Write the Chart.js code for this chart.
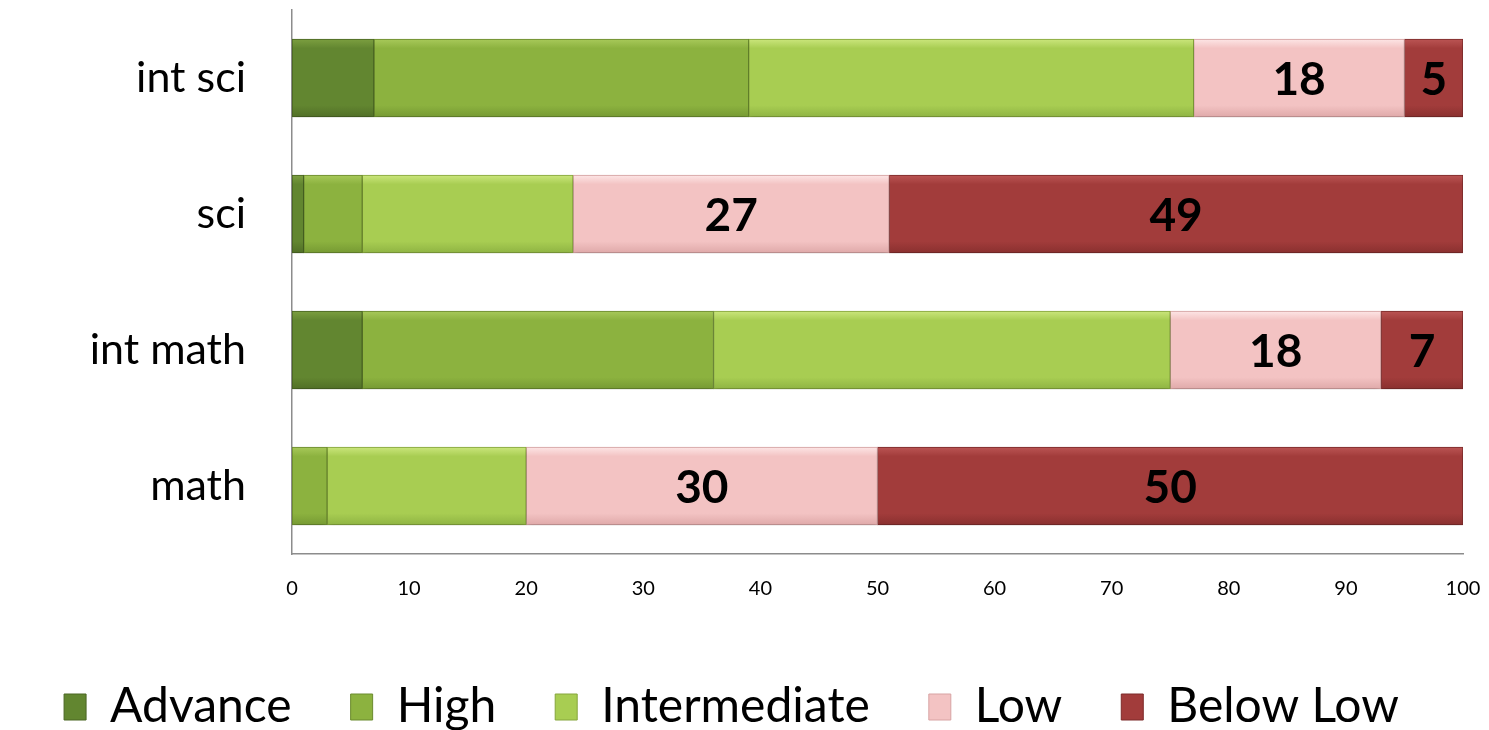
<!DOCTYPE html>
<html>
<head>
<meta charset="utf-8">
<script src="https://cdn.jsdelivr.net/npm/chart.js@4"></script>
<style>
  html, body { margin: 0; padding: 0; background: #fff; }
  #wrap { width: 1489px; height: 730px; }
</style>
</head>
<body>
<div id="wrap"><canvas id="levelsChart"></canvas></div>
<script>
// chart data
const subjects = ['int sci', 'sci', 'int math', 'math'];
const advance = [7, 1, 6, 0];
const high = [32, 5, 30, 3];
const intermediate = [38, 18, 39, 17];
const low = [18, 27, 18, 30];
const belowLow = [5, 49, 7, 50];
const xTicks = [0, 10, 20, 30, 40, 50, 60, 70, 80, 90, 100];

const FONT = 'Lato, "Open Sans", sans-serif';

// vertical gradient per bar, light on top, dark at bottom
function shade(base, light, dark) {
    return function(context) {
        const chart = context.chart;
        const y = chart.scales && chart.scales.y;
        if (!chart.chartArea || !y || context.type !== 'data') return base;
        const c = y.getPixelForValue(context.dataIndex);
        const g = chart.ctx.createLinearGradient(0, c - 39, 0, c + 39);
        g.addColorStop(0, light);
        g.addColorStop(0.12, base);
        g.addColorStop(0.85, base);
        g.addColorStop(1, dark);
        return g;
    };
}

const series = [
    { label: 'Advance', data: advance, base: '#628630', light: '#7c9f40', dark: '#516f27', border: '#4a6623' },
    { label: 'High', data: high, base: '#8cb23f', light: '#a8c95a', dark: '#769a33', border: '#6b8b2e' },
    { label: 'Intermediate', data: intermediate, base: '#a8cd52', light: '#cbe67c', dark: '#8fb443', border: '#86a63c' },
    { label: 'Low', data: low, base: '#f3c3c3', light: '#fde6e6', dark: '#dfa9a9', border: '#d8a3a3' },
    { label: 'Below Low', data: belowLow, base: '#a23c3b', light: '#bb5554', dark: '#8a302f', border: '#7d2a2a' }
];

// numbers inside the Low / Below Low bars
const barLabels = {
    id: 'barLabels',
    afterDatasetsDraw(chart) {
        const ctx = chart.ctx;
        ctx.save();
        ctx.font = 'bold 46px ' + FONT;
        ctx.fillStyle = '#000';
        ctx.textAlign = 'center';
        ctx.textBaseline = 'middle';
        [3, 4].forEach(function(di) {
            const meta = chart.getDatasetMeta(di);
            meta.data.forEach(function(bar, i) {
                const v = chart.data.datasets[di].data[i];
                if (!v) return;
                ctx.fillText(String(v), (bar.x + bar.base) / 2, bar.y + 2);
            });
        });
        ctx.restore();
    }
};

// soft shadow under the bars
const barShadow = {
    id: 'barShadow',
    beforeDatasetsDraw(chart) {
        chart.ctx.save();
        chart.ctx.shadowColor = 'rgba(0,0,0,0.25)';
        chart.ctx.shadowBlur = 6;
        chart.ctx.shadowOffsetY = 3;
    },
    afterDatasetsDraw(chart) {
        chart.ctx.restore();
    }
};

new Chart(document.getElementById('levelsChart').getContext('2d'), {
    type: 'bar',
    data: {
        labels: subjects,
        datasets: series.map(function(s) {
            return {
                label: s.label,
                data: s.data,
                backgroundColor: shade(s.base, s.light, s.dark),
                borderColor: s.border,
                borderWidth: 1,
                borderSkipped: false,
                barThickness: 78,
                baseColor: s.base
            };
        })
    },
    options: {
        indexAxis: 'y',
        responsive: true,
        maintainAspectRatio: false,
        animation: false,
        layout: { padding: { top: 10, right: 26, left: 0, bottom: -11 } },
        scales: {
            x: {
                stacked: true,
                min: 0,
                max: 100,
                afterBuildTicks(scale) {
                    scale.ticks = xTicks.map(function(v) { return { value: v }; });
                },
                grid: { display: false, drawTicks: false },
                border: { display: true, color: '#8c8c8c', width: 1.5 },
                ticks: {
                    color: '#000',
                    font: { family: FONT, size: 20 },
                    padding: 23,
                    maxRotation: 0
                },
                afterFit(scale) {
                    scale.height = 70;
                    scale.paddingLeft = 0;
                    scale.paddingRight = 0;
                }
            },
            y: {
                stacked: true,
                grid: { display: false, drawTicks: false },
                border: { display: true, color: '#8c8c8c', width: 1.5 },
                ticks: {
                    color: '#000',
                    font: { family: FONT, size: 43 },
                    padding: 46
                },
                afterFit(scale) {
                    scale.width = 292;
                    scale.paddingTop = 0;
                    scale.paddingBottom = 0;
                }
            }
        },
        plugins: {
            tooltip: { enabled: false },
            legend: {
                position: 'bottom',
                labels: {
                    color: '#000',
                    font: { family: FONT, size: 48 },
                    boxWidth: 22,
                    boxHeight: 26,
                    padding: 59,
                    generateLabels(chart) {
                        return chart.data.datasets.map(function(ds, i) {
                            return {
                                text: ds.label,
                                fillStyle: ds.baseColor,
                                strokeStyle: series[i].border,
                                lineWidth: 1,
                                datasetIndex: i
                            };
                        });
                    }
                }
            }
        }
    },
    plugins: [barShadow, barLabels]
});
</script>
</body>
</html>
